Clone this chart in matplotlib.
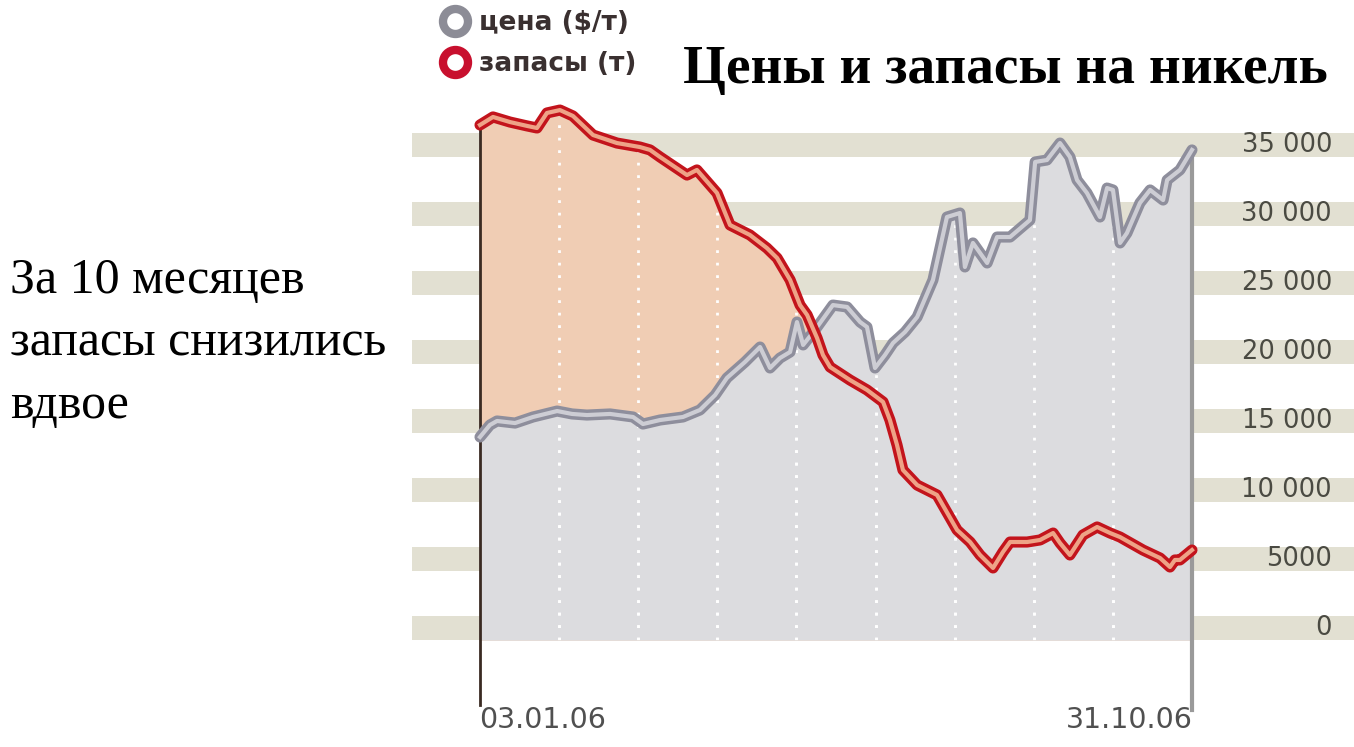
import numpy as np
import matplotlib
matplotlib.use('Agg')
import matplotlib.pyplot as plt
from matplotlib.lines import Line2D

# --- ДАННЫЕ (дни от 03.01.06) ---
price_days = [0, 4.2, 7.2, 14.8, 22.4, 32.6, 38.9, 45.2, 55.0, 64.7, 68.9, 76.1,
              85.8, 93.0, 99.4, 104.4, 112.0, 118.4, 122.6, 126.8, 131.1, 134.0,
              136.6, 141.6, 149.2, 155.2, 160.7, 163.6, 167.0, 171.2, 174.6, 179.7,
              184.8, 191.5, 197.4, 202.9, 205.0, 208.4, 214.4, 218.6, 224.1, 232.5,
              234.7, 239.7, 245.2, 249.4, 252.4, 256.6, 262.1, 265.1, 267.6, 270.6,
              273.5, 279.0, 283.3, 288.8, 290.5, 295.9, 301]
price = [13840, 14710, 15000, 14850, 15290, 15720, 15510, 15430, 15510, 15290, 14780, 15070,
         15290, 15800, 16880, 18120, 19270, 20360, 18840, 19560, 20000, 22170,
         20510, 21590, 23400, 23260, 22170, 21810, 18840, 19780, 20650, 21450,
         22530, 25220, 29780, 30070, 26160, 27900, 26450, 28330, 28330, 29560,
         33770, 33910, 35140, 34130, 32460, 31520, 29780, 31880, 31740, 27900,
         28620, 30800, 31740, 31010, 32460, 33190, 34640]

stock_days = [0, 5.5, 12.7, 19.9, 24.1, 28.3, 33.8, 39.3, 47.8, 57.9, 67.6, 71.9,
              76.1, 87.5, 91.7, 100.2, 105.7, 114.1, 121.3, 125.6, 131.1, 135.3,
              138.3, 142.5, 145.0, 148.0, 156.4, 163.6, 170.4, 173.3, 176.3, 178.8,
              184.8, 193.2, 201.7, 207.2, 211.4, 216.9, 221.1, 224.1, 231.3, 236.8,
              242.3, 245.2, 249.4, 254.9, 260.9, 266.4, 270.6, 280.3, 287.5, 291.7,
              293.8, 295.9, 301]
stock = [36450, 37030, 36660, 36380, 36230, 37320, 37530, 37100, 35720, 35140, 34850, 34640,
         34130, 32820, 33190, 31520, 29200, 28480, 27530, 26810, 25220, 23400,
         22680, 21010, 19780, 18910, 17970, 17250, 16380, 15070, 13260, 11450,
         10360, 9640, 7100, 6230, 5290, 4350, 5510, 6230, 6230, 6380,
         6880, 6160, 5290, 6740, 7320, 6880, 6590, 5650, 5070, 4420,
         4930, 4930, 5650]

y_levels = [0, 5000, 10000, 15000, 20000, 25000, 30000, 35000]
y_labels = ['0', '5000', '10 000', '15 000', '20 000', '25 000', '30 000', '35 000']
date_labels = ['03.01.06', '31.10.06']
total_days = 301
n_div = 9

# цвета
BAND = '#e2e0d2'
GRAY_FILL = '#dcdcdf'
PEACH = '#f0cdb4'
RED = '#c3141c'
RED_IN = '#eea387'
GRAY_LN = '#8e8e9c'
GRAY_IN = '#cdcdd4'

W, H = 1354, 747
fig = plt.figure(figsize=(W / 100, H / 100), dpi=100)

# оси: от 412 до 1354 px по x, от 60 до 747 px по y
ax = fig.add_axes([412 / W, 0, 942 / W, 687 / H])
ax.set_xlim(-28.75, 369.5)
ax.set_ylim(-8623, 41157)
ax.axis('off')

# горизонтальные полосы
for lev in y_levels:
    ax.axhspan(lev - 880, lev + 880, color=BAND, lw=0, zorder=0)

bottom = -880
peach = ax.fill_between(stock_days, bottom, stock, color=PEACH, lw=0, zorder=1)
gray = ax.fill_between(price_days, bottom, price, color=GRAY_FILL, lw=0, zorder=2)

# белые пунктирные вертикали, обрезанные по заливкам
grid_x = [total_days * i / n_div for i in range(1, n_div)]
for coll in (peach, gray):
    vl = ax.vlines(grid_x, bottom, 40000, colors='white', linestyles=(0, (1, 3.5)),
                   lw=2, zorder=3)
    vl.set_clip_path(coll.get_paths()[0], coll.get_transform())

# границы слева и справа
ax.plot([0, 0], [stock[0], -5580], color='#3a2a22', lw=2, zorder=3)
ax.plot([total_days, total_days], [price[-1], -5940], color='#9a9a9a', lw=3, zorder=3)

# линии
ax.plot(price_days, price, color=GRAY_LN, lw=8, solid_joinstyle='round',
        solid_capstyle='round', zorder=4)
ax.plot(price_days, price, color=GRAY_IN, lw=3, solid_joinstyle='round', zorder=4)
ax.plot(stock_days, stock, color=RED, lw=8, solid_joinstyle='round',
        solid_capstyle='round', zorder=5)
ax.plot(stock_days, stock, color=RED_IN, lw=3, solid_joinstyle='round', zorder=5)

# подписи оси Y справа
for lev, lab in zip(y_levels, y_labels):
    ax.text(360.2, lev, lab, ha='right', va='center', fontsize=18.5,
            color='#4a4a42', family='DejaVu Sans')

# даты
ax.text(-0.5, -6700, date_labels[0], ha='left', va='center', fontsize=20.5,
        color='#505050', family='DejaVu Sans')
ax.text(total_days + 0.5, -6700, date_labels[1], ha='right', va='center', fontsize=20.5,
        color='#505050', family='DejaVu Sans')

# легенда
handles = [
    Line2D([], [], ls='none', marker='o', ms=18, mfc='white', mec='#8c8c96', mew=6),
    Line2D([], [], ls='none', marker='o', ms=18, mfc='white', mec='#c8102e', mew=6),
]
fig.legend(handles, ['цена ($/т)', 'запасы (т)'], loc='upper left',
           bbox_to_anchor=(422 / W, 1 + 8 / H), frameon=False,
           prop={'family': 'DejaVu Sans', 'weight': 'bold', 'size': 19},
           labelcolor='#3a3030', handletextpad=0.35, labelspacing=0.55,
           borderpad=0.2, handlelength=1.1)

# заголовок
fig.text(683 / W, 1 - 70 / H, 'Цены и запасы на никель', ha='left', va='center',
         fontsize=39.8, fontweight='bold', family='Liberation Serif', color='black')

# текст слева
fig.text(10 / W, 1 - 343 / H, 'За 10 месяцев\nзапасы снизились\nвдвое',
         ha='left', va='center', fontsize=36, family='Liberation Serif',
         color='black', linespacing=1.45)

fig.savefig('out.png', dpi=100)
